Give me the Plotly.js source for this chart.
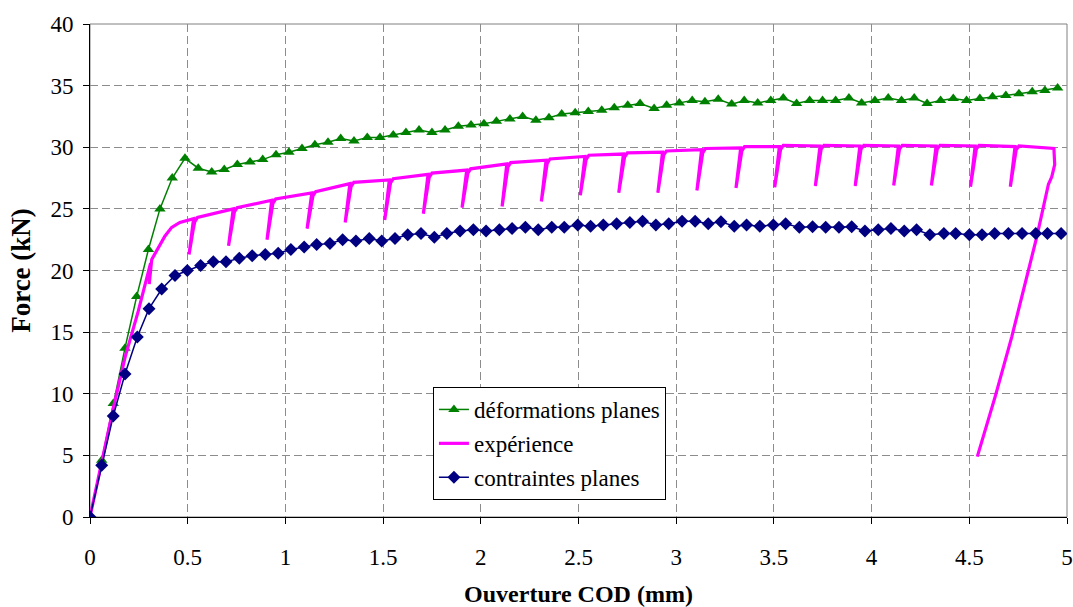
<!DOCTYPE html>
<html>
<head>
<meta charset="utf-8">
<script src="https://cdn.plot.ly/plotly-3.0.1.min.js"></script>
<style>html,body{margin:0;padding:0;background:#fff;}#chart{width:1073px;height:607px;}</style>
</head>
<body>
<div id="chart"></div>
<script>
// déformations planes
const dpX = [0, 0.06, 0.119, 0.179, 0.239, 0.299, 0.358, 0.421, 0.486, 0.554,
  0.623, 0.687, 0.754, 0.819, 0.884, 0.952, 1.018, 1.085, 1.151, 1.218,
  1.283, 1.351, 1.419, 1.484, 1.552, 1.617, 1.684, 1.75, 1.817, 1.885,
  1.95, 2.016, 2.08, 2.149, 2.214, 2.282, 2.349, 2.414, 2.483, 2.55,
  2.619, 2.683, 2.752, 2.815, 2.887, 2.951, 3.016, 3.082, 3.147, 3.215,
  3.284, 3.348, 3.417, 3.484, 3.548, 3.616, 3.683, 3.749, 3.816, 3.884,
  3.949, 4.017, 4.085, 4.153, 4.218, 4.284, 4.353, 4.418, 4.486, 4.554,
  4.619, 4.687, 4.754, 4.822, 4.887, 4.952];
const dpY = [0, 4.6, 9.2, 13.7, 17.9, 21.7, 25.0, 27.5, 29.1, 28.3,
  28.0, 28.2, 28.6, 28.8, 29.0, 29.4, 29.6, 29.9, 30.2, 30.4,
  30.7, 30.5, 30.8, 30.8, 31.0, 31.2, 31.4, 31.2, 31.4, 31.7,
  31.8, 31.9, 32.1, 32.3, 32.5, 32.2, 32.4, 32.7, 32.8, 32.9,
  33.0, 33.2, 33.4, 33.55, 33.15, 33.4, 33.6, 33.8, 33.7, 33.9,
  33.5, 33.8, 33.6, 33.8, 34.0, 33.55, 33.8, 33.8, 33.8, 34.0,
  33.6, 33.8, 34.0, 33.8, 34.0, 33.55, 33.8, 33.95, 33.8, 33.95,
  34.1, 34.2, 34.35, 34.5, 34.6, 34.8];

// expérience
const exX = [0, 0.12, 0.18, 0.247, 0.31, 0.303, 0.316, 0.35, 0.384, 0.418, 0.46, 0.53,
  0.507, 0.528, 0.536, 0.55,
  0.733, 0.709, 0.731, 0.739, 0.753,
  0.93, 0.906, 0.928, 0.936, 0.95,
  1.135, 1.111, 1.133, 1.141, 1.155,
  1.33, 1.306, 1.328, 1.336, 1.35,
  1.532, 1.508, 1.53, 1.538, 1.552,
  1.73, 1.706, 1.728, 1.736, 1.75,
  1.928, 1.904, 1.926, 1.934, 1.948,
  2.133, 2.109, 2.131, 2.139, 2.153,
  2.334, 2.31, 2.332, 2.34, 2.354,
  2.533, 2.509, 2.531, 2.539, 2.553,
  2.73, 2.706, 2.728, 2.736, 2.75,
  2.93, 2.906, 2.928, 2.936, 2.95,
  3.13, 3.106, 3.128, 3.136, 3.15,
  3.33, 3.306, 3.328, 3.336, 3.35,
  3.528, 3.504, 3.526, 3.534, 3.548,
  3.736, 3.712, 3.734, 3.742, 3.756,
  3.94, 3.916, 3.938, 3.946, 3.96,
  4.137, 4.113, 4.135, 4.143, 4.157,
  4.33, 4.306, 4.328, 4.336, 4.35,
  4.53, 4.506, 4.528, 4.536, 4.55,
  4.734, 4.71, 4.732, 4.74, 4.754,
  4.933, 4.937, 4.922, 4.905, 4.845, 4.717, 4.632, 4.541];
const exY = [0, 8.9, 13.0, 16.7, 20.6, 18.9, 20.9, 21.9, 22.8, 23.5, 23.9, 24.2,
  21.3, 23.3, 23.95, 24.3,
  25.0, 22.0, 24.1, 24.75, 25.1,
  25.7, 22.5, 24.8, 25.45, 25.8,
  26.3, 23.4, 25.4, 26.05, 26.4,
  27.05, 23.9, 26.15, 26.8, 27.15,
  27.35, 24.1, 26.45, 27.1, 27.45,
  27.8, 24.6, 26.9, 27.55, 27.9,
  28.15, 25.1, 27.25, 27.9, 28.25,
  28.65, 25.2, 27.75, 28.4, 28.75,
  28.95, 25.6, 28.05, 28.7, 29.05,
  29.25, 26.1, 28.35, 29.0, 29.35,
  29.45, 26.3, 28.55, 29.2, 29.55,
  29.6, 26.3, 28.7, 29.35, 29.7,
  29.8, 26.5, 28.9, 29.55, 29.9,
  29.95, 26.7, 29.05, 29.7, 30.05,
  30.05, 26.75, 29.15, 29.8, 30.15,
  30.1, 26.85, 29.2, 29.85, 30.15,
  30.1, 26.85, 29.2, 29.85, 30.15,
  30.1, 26.9, 29.2, 29.85, 30.15,
  30.1, 26.9, 29.2, 29.85, 30.15,
  30.1, 26.8, 29.2, 29.85, 30.15,
  30.05, 26.8, 29.15, 29.8, 30.1,
  29.9, 28.6, 27.6, 27.0, 22.7, 14.6, 9.75, 4.9];

// contraintes planes
const cpX = [0, 0.06, 0.119, 0.179, 0.242, 0.302, 0.367, 0.435, 0.498, 0.566,
  0.631, 0.696, 0.764, 0.83, 0.897, 0.963, 1.028, 1.096, 1.16, 1.228,
  1.293, 1.361, 1.429, 1.493, 1.561, 1.626, 1.694, 1.762, 1.826, 1.894,
  1.962, 2.027, 2.095, 2.16, 2.228, 2.294, 2.363, 2.427, 2.496, 2.562,
  2.627, 2.695, 2.763, 2.828, 2.896, 2.962, 3.03, 3.097, 3.164, 3.229,
  3.297, 3.36, 3.428, 3.497, 3.56, 3.63, 3.698, 3.765, 3.833, 3.898,
  3.966, 4.034, 4.099, 4.167, 4.23, 4.298, 4.37, 4.43, 4.50, 4.565,
  4.63, 4.70, 4.77, 4.84, 4.90, 4.97];
const cpY = [0, 4.2, 8.2, 11.6, 14.6, 16.9, 18.5, 19.6, 20.0, 20.4,
  20.7, 20.7, 21.0, 21.2, 21.3, 21.4, 21.7, 21.9, 22.1, 22.2,
  22.5, 22.4, 22.6, 22.4, 22.6, 22.9, 23.0, 22.7, 23.0, 23.2,
  23.3, 23.2, 23.3, 23.4, 23.5, 23.3, 23.5, 23.5, 23.7, 23.6,
  23.7, 23.8, 23.9, 24.0, 23.7, 23.8, 24.0, 24.0, 23.8, 23.95,
  23.6, 23.7, 23.6, 23.7, 23.8, 23.5, 23.55, 23.5, 23.5, 23.55,
  23.2, 23.3, 23.4, 23.2, 23.3, 22.9, 23.0, 23.0, 22.9, 22.9,
  23.0, 23.0, 23.0, 23.0, 23.0, 23.0];

const seriesNames = ["déformations planes", "expérience", "contraintes planes"];
const xTitle = "Ouverture COD (mm)";
const yTitle = "Force (kN)";

const FONT = "Liberation Serif";

const traces = [
  {x: dpX, y: dpY, name: seriesNames[0], type: "scatter", mode: "lines+markers",
   legendgroup: "g1",
   line: {color: "#008000", width: 1.5},
   marker: {symbol: "triangle-up", size: 10, color: "#008000"}},
  {x: exX, y: exY, name: seriesNames[1], type: "scatter", mode: "lines",
   legendgroup: "g2",
   line: {color: "#FF00FF", width: 3.2}},
  {x: cpX, y: cpY, name: seriesNames[2], type: "scatter", mode: "lines+markers",
   legendgroup: "g3",
   line: {color: "#000080", width: 1.5},
   marker: {symbol: "diamond", size: 10, color: "#000080"}}
];

const layout = {
  width: 1073, height: 607,
  margin: {l: 90, r: 6, t: 24, b: 90, pad: 0},
  paper_bgcolor: "#fff", plot_bgcolor: "#fff",
  font: {family: FONT, size: 23, color: "#000"},
  showlegend: true,
  legend: {x: 0.351, y: 0.2637, xanchor: "left", yanchor: "top",
    bgcolor: "#fff", bordercolor: "#000", borderwidth: 1,
    font: {family: FONT, size: 23, color: "#000"},
    traceorder: "grouped", tracegroupgap: 1},
  xaxis: {range: [0, 5], dtick: 0.5, tick0: 0,
    showline: true, linecolor: "#000", linewidth: 1,
    ticks: "outside", ticklen: 6, tickcolor: "#000",
    tickfont: {family: FONT, size: 23, color: "#000"},
    showgrid: true, gridcolor: "#8c8c8c", griddash: "8px,4px", gridwidth: 1,
    zeroline: false, ticklabelstandoff: 13,
    title: {text: "<b>" + xTitle + "</b>", font: {family: FONT, size: 24, color: "#000"}, standoff: 20}},
  yaxis: {range: [0, 40], dtick: 5, tick0: 0,
    showline: true, linecolor: "#000", linewidth: 1,
    ticks: "outside", ticklen: 6, tickcolor: "#000",
    tickfont: {family: FONT, size: 23, color: "#000"},
    showgrid: true, gridcolor: "#8c8c8c", griddash: "8px,4px", gridwidth: 1,
    zeroline: false, ticklabelstandoff: 5,
    title: {text: "<b>" + yTitle + "</b>", font: {family: FONT, size: 27, color: "#000"}, standoff: 11}},
  shapes: [{type: "rect", xref: "paper", yref: "paper", x0: 0, x1: 1, y0: 0, y1: 1,
    line: {color: "#808080", width: 1}, layer: "below"}]
};

Plotly.newPlot("chart", traces, layout, {displayModeBar: false, staticPlot: true});
</script>
</body>
</html>
